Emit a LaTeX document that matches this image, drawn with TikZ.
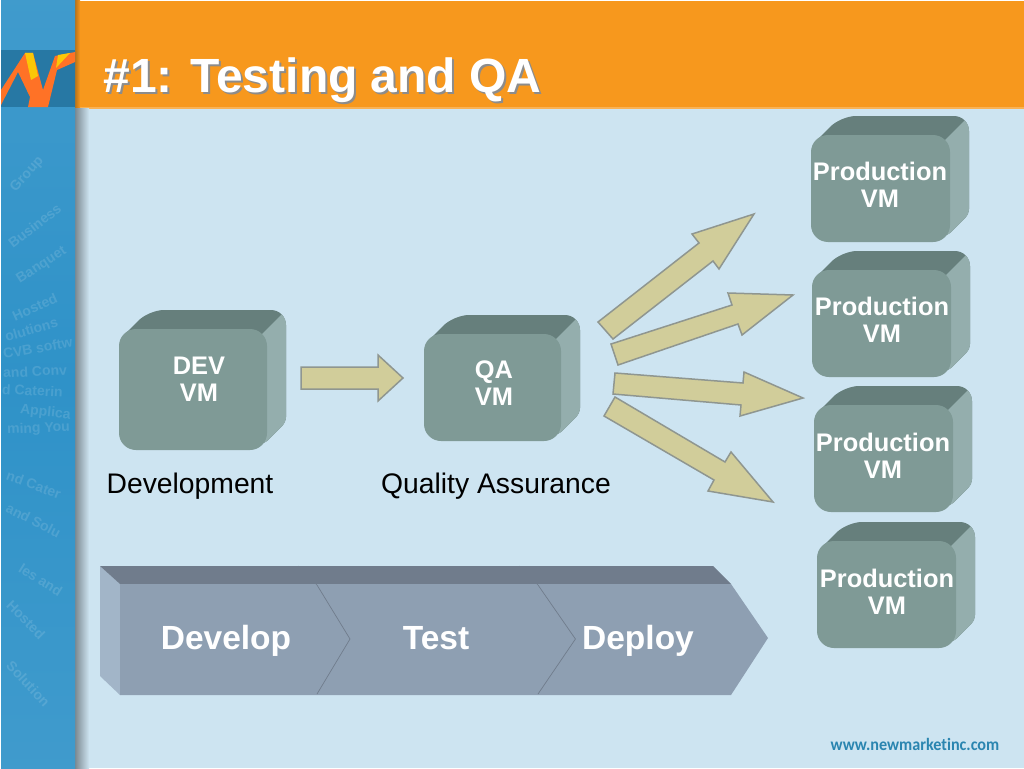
\documentclass[tikz,border=0pt]{standalone}
\usepackage{fontspec}
\setmainfont{Liberation Sans}
\newfontfamily\urlfont[Ligatures=NoCommon, FakeStretch=0.93]{Carlito}
\definecolor{cpage}{HTML}{CDE4F1}
\definecolor{cband}{HTML}{F7981D}
\definecolor{cside}{HTML}{2F92C8}
\definecolor{caddress}{HTML}{2A85B0}
\definecolor{cvmfront}{HTML}{7F9A96}
\definecolor{cvmtop}{HTML}{667F7C}
\definecolor{cvmside}{HTML}{94AEAD}
\definecolor{cflowfront}{HTML}{8E9FB2}
\definecolor{cflowtop}{HTML}{707C8C}
\definecolor{cflowside}{HTML}{A2B5C8}
\definecolor{carrow}{HTML}{D1CD9A}
\definecolor{carrowline}{HTML}{8F9690}
\tikzset{
  vmlabel/.style={text=white, font=\fontsize{25.4}{27}\selectfont\bfseries, align=center, inner sep=0pt},
  flowlabel/.style={text=white, font=\fontsize{33.5}{36}\selectfont\bfseries, inner sep=0pt, anchor=base},
  caption/.style={text=black, font=\fontsize{28.3}{30}\selectfont, inner sep=0pt, anchor=base},
  titletext/.style={font=\fontsize{48}{50}\selectfont\bfseries, inner sep=0pt, anchor=base},
  fantext/.style={text=white, opacity=0.13, font=\fontsize{14}{15}\selectfont\bfseries, inner sep=0pt, anchor=west},
  blockarrow/.style={fill=carrow, draw=carrowline, line width=1.5pt, line join=miter},
}
% box: x, y, width, height of the front face
\newcommand\vmbox[4]{
  \begin{scope}[shift={(#1, #2)}]
    \begin{scope}
      \clip [rounded corners=15] (2, 9) -- (30, -19) -- (#3+19, -19) [rounded corners=5] -- (#3+19, #4-28) -- (#3-3, #4-6) -- (2, #4-6) -- cycle;
      \fill [cvmtop] (-5, -25) rectangle (#3+25, #4+5);
      \fill [cvmside] (#3-8, 8) -- (#3+17, -17) -- (#3+25, -19) -- (#3+25, #4+5) -- (#3-8, #4+5) -- cycle;
    \end{scope}
    \fill [cvmfront, rounded corners=17] (0, 0) rectangle (#3, #4);
  \end{scope}
}
\begin{document}
\begin{tikzpicture}[x=1pt, y=-1pt]
  \useasboundingbox (0, 0) rectangle (1024, 768);

  % page, band and side strip
  \fill [white] (0, 0) rectangle (1024, 768);
  \fill [cpage] (1, 1) rectangle (1024, 768);
  \fill [cband] (76, 1) rectangle (1024, 107);
  \fill [cband!75!white] (76, 107) rectangle (1024, 108.5);
  \shade [left color=cband!75!black, right color=cband] (75, 1) rectangle (80, 107);
  \shade [left color=cpage!60!black, right color=cpage] (75, 108.5) rectangle (89, 768);
  \shade [top color=cside!92!white, bottom color=cside!92!white, middle color=cside] (1, 1) rectangle (75, 768);

  % side strip lettering
  \foreach \x/\y/\a/\t [count=\n] in {
    13/190/48/Group, 10/245/38/Business, 18/281/33/Banquet, 13/317/24/Hosted,
    5/337/16/olutions, 3/354/10/CVB softw, 3/373/3/and Conv, 2/389/-3/d Caterin,
    20/410/-6/Applica, 7/430/2/ming You, 7/475/-20/nd Cater, 7/507/-27/and Solu,
    20/567/-32/les and, 9/603/-45/Hosted, 9/663/-47/Solution} {
    \node [fantext, rotate=\a] (fan\n) at (\x, \y) {\t};
  }

  % logo
  \fill [cside!82!black] (1, 50) rectangle (75, 107);
  \fill [orange!70!red!85!white] (1, 90) -- (25, 53) -- (33, 53) -- (43, 90) -- (55, 56) -- (75, 52) -- (75, 62) -- (57, 70) -- (48, 107) -- (28, 107) -- (30, 97) -- (18, 72) -- (1, 105) -- cycle;
  \fill [yellow!60!orange] (25, 53) -- (33, 53) -- (38, 76) -- (31, 80) -- cycle;
  \fill [yellow!60!orange] (58, 55) -- (70, 53) -- (56, 68) -- cycle;

  % title
  \node [titletext, text=black!45] (titleshadow) at (324.5, 94) {\#1: Testing and QA};
  \node [titletext, text=white] (title) at (322.5, 92) {\#1: Testing and QA};

  % vm boxes
  \vmbox{119}{329}{148}{121}
  \vmbox{424}{334}{137}{107}
  \foreach \x/\y in {811/135, 812/270, 814/405, 817/541} {
    \vmbox{\x}{\y}{139}{107}
  }

  \node [vmlabel] (dev) at (199, 379.5) {DEV\\VM};
  \node [vmlabel] (qa) at (494, 383.5) {QA\\VM};
  \node [vmlabel] (prodA) at (880, 185) {Production\\VM};
  \node [vmlabel] (prodB) at (882, 320) {Production\\VM};
  \node [vmlabel] (prodC) at (883, 456) {Production\\VM};
  \node [vmlabel] (prodD) at (887, 592) {Production\\VM};

  \node [caption] (devtext) at (190, 493.5) {Development};
  \node [caption] (qatext) at (496, 493.5) {Quality Assurance};

  % block arrows
  \draw [blockarrow] (301, 367) -- (378, 367) -- (378, 355) -- (403, 378) -- (378, 401) -- (378, 389) -- (301, 389) -- cycle;
  \draw [blockarrow] (598, 322) -- (699, 243) -- (692, 234) -- (754, 214) -- (719, 269) -- (713, 261) -- (613, 339) -- cycle;
  \draw [blockarrow] (611, 344) -- (732, 305) -- (728, 293) -- (793, 295) -- (742, 335) -- (738, 324) -- (618, 365) -- cycle;
  \draw [blockarrow] (615, 373) -- (743, 383) -- (744, 372) -- (803, 398) -- (740, 416) -- (741, 405) -- (613, 394) -- cycle;
  \draw [blockarrow] (615, 397) -- (725, 462) -- (731, 452) -- (773, 502) -- (708, 491) -- (714, 480) -- (604, 416) -- cycle;

  % process chevrons
  \fill [cflowside] (100, 566) -- (120, 584) -- (120, 695) -- (100, 676) -- cycle;
  \fill [cflowtop] (100, 566) -- (713, 566) -- (731, 584) -- (120, 584) -- cycle;
  \fill [cflowfront] (120, 584) -- (731, 584) -- (768, 638) -- (731, 695) -- (120, 695) -- cycle;
  \foreach \x in {0, 221} {
    \draw [cflowtop, line width=0.7pt] (298+\x, 566) -- (317+\x, 585) -- (350+\x*1.02, 639) -- (317+\x, 694);
  }

  \node [flowlabel] (develop) at (226, 649.5) {Develop};
  \node [flowlabel] (test) at (436, 649.5) {Test};
  \node [flowlabel] (deploy) at (638, 649.5) {Deploy};

  % footer address
  \node [text=caddress, font=\urlfont\fontsize{17.4}{18}\selectfont\bfseries, inner sep=0pt] (address) at (915, 744) {www.newmarketinc.com};
\end{tikzpicture}
\end{document}
